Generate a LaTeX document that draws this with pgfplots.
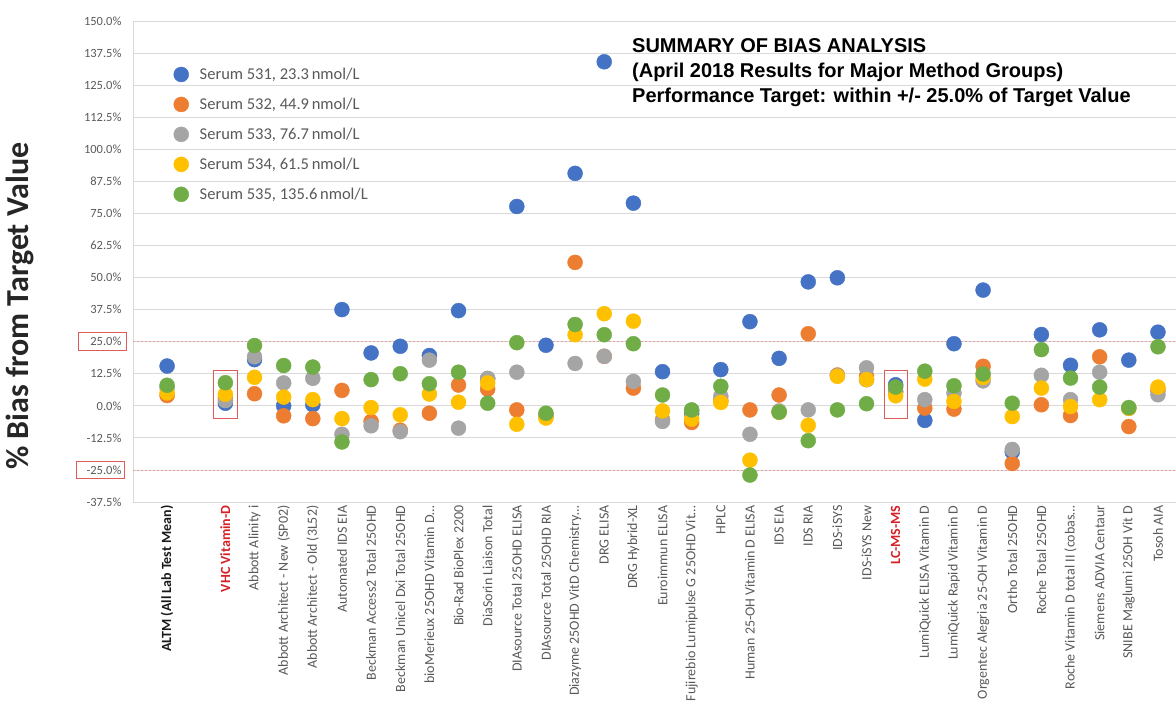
\documentclass[border=0pt]{standalone}
\usepackage{pgfplots}
\usepackage{pgfplotstable}
\pgfplotsset{compat=1.18}
\usepackage{fontspec}
\setmainfont{Carlito}
\newfontfamily\titlefont{Liberation Sans}
\definecolor{sA}{HTML}{4472C4}
\definecolor{sB}{HTML}{ED7D31}
\definecolor{sC}{HTML}{A5A5A5}
\definecolor{sD}{HTML}{FFC000}
\definecolor{sE}{HTML}{70AD47}
\definecolor{txtgray}{HTML}{595959}
\definecolor{gridgray}{HTML}{D9D9D9}
\definecolor{labred}{HTML}{D42027}
\definecolor{boxred}{HTML}{E05A5A}
\definecolor{dashred}{HTML}{E8A0A0}

\pgfplotstableread{
x a b c d e
0 15.5 4.0 7.0 5.0 8.0
2 1.0 3.0 2.0 4.5 9.0
3 18.0 4.7 19.1 11.1 23.5
4 0.0 -3.9 8.9 3.4 15.7
5 0.4 -5.0 10.7 2.4 15.1
6 37.5 6.0 -11.1 -5.0 -14.1
7 20.6 -6.1 -7.8 -0.7 10.2
8 23.2 -9.5 -10.1 -3.5 12.5
9 19.6 -2.9 17.8 4.6 8.6
10 37.1 8.1 -8.7 1.4 13.1
11 10.5 6.5 10.7 8.9 1.0
12 77.7 -1.6 13.1 -7.2 24.6
13 23.6 -4.0 -3.5 -4.8 -2.9
14 90.6 55.9 16.5 27.7 31.7
15 134.1 19.3 19.3 35.9 27.7
16 79.0 6.9 9.5 33.0 24.2
17 13.3 -5.5 -6.1 -2.0 4.2
18 -3.0 -6.5 -1.8 -5.2 -1.6
19 14.1 2.0 3.7 1.3 7.6
20 32.8 -1.6 -11.1 -21.2 -27.0
21 18.5 4.2 -2.0 -2.5 -2.5
22 48.3 28.1 -1.6 -7.6 -13.6
23 49.9 12.0 11.8 11.5 -1.6
24 10.2 11.5 14.8 10.2 0.8
25 8.2 5.5 5.5 3.9 7.3
26 -5.7 -0.9 2.4 10.4 13.5
27 24.2 -1.3 5.0 1.7 7.8
28 45.1 15.4 9.7 11.0 12.4
29 -18.0 -22.5 -17.0 -4.2 1.0
30 27.8 0.4 11.9 6.9 21.9
31 15.8 -3.8 2.4 -0.3 10.8
32 29.6 19.1 13.1 2.4 7.3
33 17.8 -8.1 -1.0 -1.0 -0.7
34 28.7 6.0 4.3 7.3 23.0
}\biasdata

\begin{document}
\begin{tikzpicture}
\path[use as bounding box] (0,0) rectangle (1176pt,711pt);
\begin{axis}[
  at={(133pt,209pt)}, anchor=south west,
  scale only axis, width=1043pt, height=481pt,
  xmin=-1.17, xmax=34.62, ymin=-37.5, ymax=150,
  clip=false,
  axis x line*=bottom, axis y line*=left,
  axis line style={gridgray, line width=0.8pt},
  major tick length=0pt,
  ymajorgrids, major grid style={gridgray, line width=0.8pt},
  ytick={-37.5,-25,...,150},
  /pgf/number format/assume math mode=true,
  yticklabel={\pgfmathprintnumber[fixed,fixed zerofill,precision=1]{\tick}\%},
  yticklabel style={font=\fontsize{12.5}{12.5}\selectfont, text=txtgray, xshift=-8pt},
  xtick={0,2,3,4,5,6,7,8,9,10,11,12,13,14,15,16,17,18,19,20,21,22,23,24,25,26,27,28,29,30,31,32,33,34},
  xticklabels={
    {\textbf{\textcolor{black!90}{ALTM (All Lab Test Mean)}}},
    {\textbf{\textcolor{labred}{VHC Vitamin-D}}},
    {Abbott Alinity i},
    {Abbott Architect - New (SP02)},
    {Abbott Architect - Old (3L52)},
    {Automated IDS EIA},
    {Beckman Access2 Total 25OHD},
    {Beckman Unicel Dxi Total 25OHD},
    {bioMerieux 25OHD Vitamin D…},
    {Bio-Rad BioPlex 2200},
    {DiaSorin Liaison Total},
    {DIAsource Total 25OHD ELISA},
    {DIAsource Total 25OHD RIA},
    {Diazyme 25OHD VitD Chemistry…},
    {DRG ELISA},
    {DRG Hybrid-XL},
    {Euroimmun ELISA},
    {Fujirebio Lumipulse G 25OHD Vit…},
    {HPLC},
    {Human 25-OH Vitamin D ELISA},
    {IDS EIA},
    {IDS RIA},
    {IDS-iSYS},
    {IDS-iSYS New},
    {\textbf{\textcolor{labred}{LC-MS-MS}}},
    {LumiQuick ELISA Vitamin D},
    {LumiQuick Rapid Vitamin D},
    {Orgentec Alegria 25-OH Vitamin D},
    {Ortho Total 25OHD},
    {Roche Total 25OHD},
    {Roche Vitamin D total II (cobas…},
    {Siemens ADVIA Centaur},
    {SNIBE Maglumi 25OH Vit D},
    {Tosoh AIA}},
  xticklabel style={rotate=90, anchor=east, font=\fontsize{14}{14}\selectfont, text=txtgray},
  every axis y label/.style={at={(rel axis cs:-0.108,0.407)}, rotate=90, anchor=center, text=black!85},
  ylabel={\bfseries\fontsize{32}{32}\selectfont \% Bias from Target Value},
  legend style={at={(rel axis cs:0.036,0.911)}, anchor=north west, draw=none, fill=none,
    font=\fontsize{16.5}{16.5}\selectfont, text=txtgray, row sep=13pt, legend cell align=left,
    /tikz/every odd column/.append style={column sep=9pt}},
]
\addplot[dashred, line width=0.8pt, dash pattern=on 2pt off 2pt, forget plot] coordinates {(-1.17,25) (34.62,25)};
\addplot[dashred, line width=0.8pt, dash pattern=on 2pt off 2pt, forget plot] coordinates {(-1.17,-25) (34.62,-25)};
\addplot[only marks, mark=*, mark size=7.5pt, color=sA, mark options={fill=sA, draw=sA}] table[x=x, y=a]{\biasdata};
\addlegendentry{Serum 531, 23.3\,nmol/L}
\addplot[only marks, mark=*, mark size=7.5pt, color=sB, mark options={fill=sB, draw=sB}] table[x=x, y=b]{\biasdata};
\addlegendentry{Serum 532, 44.9\,nmol/L}
\addplot[only marks, mark=*, mark size=7.5pt, color=sC, mark options={fill=sC, draw=sC}] table[x=x, y=c]{\biasdata};
\addlegendentry{Serum 533, 76.7\,nmol/L}
\addplot[only marks, mark=*, mark size=7.5pt, color=sD, mark options={fill=sD, draw=sD}] table[x=x, y=d]{\biasdata};
\addlegendentry{Serum 534, 61.5\,nmol/L}
\addplot[only marks, mark=*, mark size=7.5pt, color=sE, mark options={fill=sE, draw=sE}] table[x=x, y=e]{\biasdata};
\addlegendentry{Serum 535, 135.6\,nmol/L}
\draw[boxred, line width=0.9pt] (axis cs:-3.03,28.6) rectangle (axis cs:-1.41,21.6);
\draw[boxred, line width=0.9pt] (axis cs:-3.10,-21.6) rectangle (axis cs:-1.48,-28.2);
\draw[boxred, line width=0.9pt] (axis cs:1.60,13.8) rectangle (axis cs:2.43,-4.8);
\draw[boxred, line width=0.9pt] (axis cs:24.60,13.8) rectangle (axis cs:25.42,-4.8);
\node[anchor=north west, inner sep=0pt, align=left, font=\titlefont\bfseries\fontsize{20}{25}\selectfont]
  at (rel axis cs:0.4784,0.9647) {SUMMARY OF BIAS ANALYSIS\\(April 2018 Results for Major Method Groups)\\Performance Target: within +/- 25.0\% of Target Value};
\end{axis}
\end{tikzpicture}
\end{document}
